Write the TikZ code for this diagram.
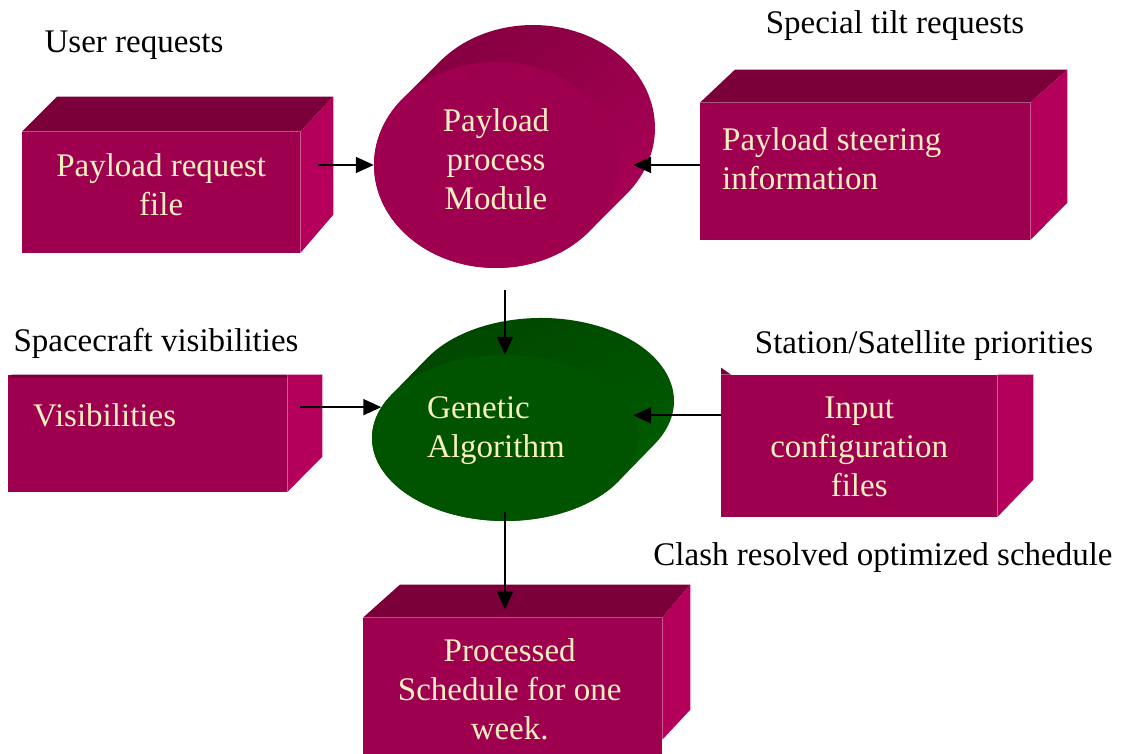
\documentclass[tikz,border=0pt]{standalone}
\usepackage{fontspec}
\setmainfont{Liberation Serif}
\usetikzlibrary{arrows.meta,calc,shapes.geometric,shadings}
\definecolor{facefront}{HTML}{9E004F}
\definecolor{facetop}{HTML}{7B0039}
\definecolor{faceside}{HTML}{B5005B}
\definecolor{cream}{HTML}{F7EFC0}
\definecolor{gfront}{HTML}{005400}
\definecolor{gdark}{HTML}{004200}
\definecolor{gmid}{HTML}{004E00}
\definecolor{glight}{HTML}{006600}
\definecolor{mmid}{HTML}{95004B}

\begin{document}
\begin{tikzpicture}[x=1pt,y=1pt,
  face/.style={rectangle, fill=facefront, draw=none, inner sep=0pt},
  topface/.style={fill=facetop},
  sideface/.style={fill=faceside},
  boxtext/.style={text=cream, inner sep=0pt, font=\fontsize{33}{39}\selectfont},
  lbl/.style={text=black, anchor=base, inner sep=0pt, font=\fontsize{33}{39}\selectfont},
  flow/.style={draw=black, line width=1.8pt, -{Triangle[length=18pt,width=16pt]}}
]
\useasboundingbox (0,0) rectangle (1121,754);
\clip (0,0) rectangle (1121,754);

% ---- Payload request file
\node[face, minimum width=278pt, minimum height=121pt, anchor=south west] (reqbox) at (22,501) {};
\fill[topface] (reqbox.north west) -- (reqbox.north east) -- ++(33,35) -- ($(reqbox.north west)+(35,35)$) -- cycle;
\fill[sideface] (reqbox.north east) -- ++(33,35) -- ++(0,-118) -- (reqbox.south east) -- cycle;
\node[boxtext, align=center] at ($(reqbox.center)+(0,8)$) {Payload request\\file};

% ---- Payload steering information
\node[face, minimum width=330pt, minimum height=137pt, anchor=south west] (steerbox) at (700,514) {};
\fill[topface] (steerbox.north west) -- (steerbox.north east) -- ++(37,33) -- ($(steerbox.north west)+(35,33)$) -- cycle;
\fill[sideface] (steerbox.north east) -- ++(37,33) -- ++(0,-133) -- (steerbox.south east) -- cycle;
\node[boxtext, align=left, anchor=west] at ($(steerbox.west)+(22,13)$) {Payload steering\\information};

% ---- Visibilities
\node[face, minimum width=279pt, minimum height=117pt, anchor=south west] (visbox) at (8,262) {};
\fill[topface] ($(visbox.north west)+(4,0)$) -- (visbox.north east) -- ++(0,-3) -- ($(visbox.north west)+(0,-3)$) -- cycle;
\fill[sideface] (visbox.north east) -- ++(35,0) -- ++(0,-82) -- (visbox.south east) -- cycle;
\node[boxtext, anchor=west] at ($(visbox.west)+(25,18)$) {Visibilities};

% ---- Input configuration files
\node[face, minimum width=276pt, minimum height=142pt, anchor=south west] (inputbox) at (721,237) {};
\fill[topface] (inputbox.north west) -- ++(0,7) -- ++(10,-7) -- cycle;
\fill[sideface] (inputbox.north east) -- ++(36,0) -- ++(0,-105) -- (inputbox.south east) -- cycle;
\node[boxtext, align=center] at ($(inputbox.center)+(0,-1)$) {Input\\configuration\\files};

% ---- Processed schedule
\node[face, minimum width=299pt, minimum height=141pt, anchor=south west] (schedbox) at (363,-5) {};
\fill[topface] (schedbox.north west) -- (schedbox.north east) -- ++(28,33) -- ($(schedbox.north west)+(37,33)$) -- cycle;
\fill[sideface] (schedbox.north east) -- ++(28,33) -- ++(0,-125) -- ++(-28,-30) -- cycle;
\node[boxtext, align=center] at ($(schedbox.center)+(-3,-1)$) {Processed\\Schedule for one\\week.};

% ---- Payload process module (extruded ellipse)
\coordinate (pc) at (496,589);
\shade[upper left=facetop, upper right=mmid, lower left=mmid, lower right=faceside]
  ($(pc)+({122*cos(-40.2)},{103*sin(-40.2)})$) -- ++(37,37)
  arc[start angle=-40.2, end angle=139.8, x radius=122, y radius=103] -- ++(-37,-37)
  arc[start angle=139.8, end angle=319.8, x radius=122, y radius=103] -- cycle;
\node[ellipse, fill=facefront, draw=none, inner sep=0pt, minimum width=244pt, minimum height=206pt] (ppm) at (pc) {};
\node[boxtext, align=center] at ($(ppm.center)+(0,6)$) {Payload\\process\\Module};

% ---- Genetic algorithm (extruded ellipse)
\coordinate (gc) at (505,316);
\shade[upper left=gdark, upper right=gmid, lower left=gmid, lower right=glight]
  ($(gc)+({133*cos(-31.3)},{83*sin(-31.3)})$) -- ++(36,37)
  arc[start angle=-31.3, end angle=148.7, x radius=133, y radius=83] -- ++(-36,-37)
  arc[start angle=148.7, end angle=328.7, x radius=133, y radius=83] -- cycle;
\node[ellipse, fill=gfront, draw=none, inner sep=0pt, minimum width=266pt, minimum height=166pt] (ga) at (gc) {};
\node[boxtext, align=left, anchor=west] at ($(ga.center)+(-78,7)$) {Genetic\\Algorithm};

% ---- Free labels
\node[lbl] (ulbl) at (134,701) {User requests};
\node[lbl] (tlbl) at (895,720) {Special tilt requests};
\node[lbl] (slbl) at (156,402) {Spacecraft visibilities};
\node[lbl] (plbl) at (924,400) {Station/Satellite priorities};
\node[lbl] (clbl) at (883,188) {Clash resolved optimized schedule};

% ---- Connectors
\draw[flow] ([xshift=18pt]reqbox.east |- ppm.west) -- (ppm.west);
\draw[flow] (steerbox.west |- ppm.east) -- ([xshift=15pt]ppm.east);
\draw[flow] ([yshift=-22pt]ppm.south -| ga.north) -- (ga.north);
\draw[flow] ([xshift=13pt]visbox.east |- ga.166) -- (ga.166);
\draw[flow] (inputbox.west |- ga.10) -- (ga.10);
\draw[flow] ([yshift=9pt]ga.south) -- ([yshift=8pt]schedbox.north -| ga.south);
\end{tikzpicture}
\end{document}
